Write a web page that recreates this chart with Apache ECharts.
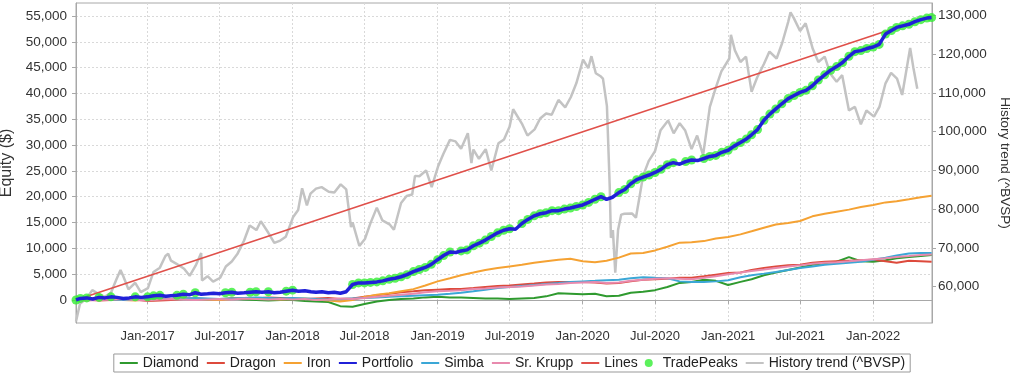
<!DOCTYPE html>
<html><head><meta charset="utf-8">
<script src="https://cdn.jsdelivr.net/npm/echarts@6/dist/echarts.min.js"></script>
<style>html,body{margin:0;padding:0;background:#fff}#c{width:1024px;height:374px}</style>
</head><body><div id="c"></div><script>
// ---- categories (months of the equity curves) ----
const months = [
 '2016-07','2016-08','2016-09','2016-10','2016-11','2016-12',
 '2017-01','2017-02','2017-03','2017-04','2017-05','2017-06','2017-07','2017-08','2017-09','2017-10','2017-11','2017-12',
 '2018-01','2018-02','2018-03','2018-04','2018-05','2018-06','2018-07','2018-08','2018-09','2018-10','2018-11','2018-12',
 '2019-01','2019-02','2019-03','2019-04','2019-05','2019-06','2019-07','2019-08','2019-09','2019-10','2019-11','2019-12',
 '2020-01','2020-02','2020-03','2020-04','2020-05','2020-06','2020-07','2020-08','2020-09','2020-10','2020-11','2020-12',
 '2021-01','2021-02','2021-03','2021-04','2021-05','2021-06','2021-07','2021-08','2021-09','2021-10','2021-11','2021-12',
 '2022-01','2022-02','2022-03','2022-04','2022-05'];
const startDate = '2016-07-05';
const endDate = '2022-05-28';
const monthDates = months.map((m, i) => i === 0 ? startDate : m + '-01').concat([endDate]);
const halfDates = months.flatMap((m, i) => [i === 0 ? startDate : m + '-01', m + '-16']).concat([endDate]);

// ---- equity series (left axis, $) monthly ----
const diamond = [
 0,200,300,200,100,300,
 400,300,200,300,200,100,200,300,100,0,-100,0,
 0,-200,-300,-400,-1200,-1300,-800,-300,0,200,300,500,
 600,500,500,400,300,300,200,300,400,700,1300,1200,
 1100,1200,700,800,1400,1600,1900,2500,3300,3500,3900,3700,
 2900,3500,4000,4800,5300,5800,6300,6800,7100,7400,8300,7500,
 7400,7700,8100,8300,8500,
 8700];
const dragon = [
 0,100,-100,0,200,100,
 -200,-100,0,200,300,200,100,300,400,300,500,400,
 300,200,300,400,200,300,600,900,1200,1500,1700,1900,
 2000,2100,2100,2300,2500,2700,2800,3000,3200,3400,3500,3500,
 3500,3400,3200,3300,3600,3900,4000,4100,4300,4300,4600,4900,
 5200,5300,5800,6200,6500,6700,6800,7200,7400,7500,7600,7700,
 7800,7500,7200,7600,7500,
 7400];
const iron = [
 0,100,300,200,0,-100,
 100,300,200,400,200,100,0,200,400,300,200,100,
 200,300,100,-100,-300,0,600,1000,1300,1700,2100,2800,
 3600,4200,4800,5300,5800,6200,6500,6800,7200,7500,7800,8000,
 7500,7300,7600,8200,9000,9100,9600,10300,11100,11200,11400,11900,
 12200,12700,13300,14000,14600,14900,15300,16200,16700,17100,17500,18000,
 18400,18900,19100,19500,19900,
 20200];
const simba = [
 0,100,200,100,0,100,
 200,300,200,300,400,300,200,300,400,500,400,300,
 400,300,200,100,200,300,400,500,600,700,800,900,
 1000,1200,1400,1700,2000,2300,2500,2700,2900,3100,3300,3500,
 3600,3700,3800,3900,4200,4400,4300,4200,3600,3500,3500,3600,
 3800,4400,4800,5100,5400,5800,6200,6500,6800,7000,7200,7400,
 7800,8200,8600,9000,9100,
 9100];
const srKrupp = [
 0,-100,0,100,200,0,
 -100,100,200,100,0,100,200,100,300,200,100,200,
 100,200,0,100,300,200,400,600,800,1000,1200,1500,
 1700,1800,1900,2100,2200,2400,2500,2600,2800,3000,3100,3300,
 3400,3500,3300,3400,3700,3900,4100,4200,4100,4000,4300,4600,
 5000,5300,5600,5900,6200,6500,6700,7000,7200,7300,7500,7700,
 7900,8100,8300,8500,8700,
 8800];
// Portfolio, twice a month (1st and 16th)
const portfolio = [
 0,300, 400,200, 500,400, 600,500, 300,400, 600,500,
 600,800, 900,700, 800,900, 1100,1000, 1400,1100, 1200,1300, 1200,1400, 1500,1300, 1400,1500, 1600,1500, 1600,1400, 1500,1700,
 1900,1700, 1800,1600, 1500,1600, 1400,1500, 1300,1600, 3000,3300, 3300,3400, 3500,3700, 4000,4200, 4500,4900, 5500,5900, 6300,6900,
 7800,8600, 9300,9200, 9500,9700, 10500,11000, 11600,12300, 13000,13500, 13800,13700, 14800,15600, 16300,16700, 16900,17300, 17300,17600, 17800,18100,
 18400,18900, 19500,20000, 19500,19900, 20800,21400, 22500,23300, 23800,24200, 24700,25300, 26200,26600, 26300,26800, 27100,27000, 27400,27800, 28000,28600,
 29000,29800, 30500,31200, 32000,33000, 34800,36000, 37000,38000, 39000,39600, 40200,40600, 41500,42600, 43600,44500, 45200,46000, 47200,48100, 48300,48700,
 49000,49500, 51500,52200, 52800,53100, 53400,53900, 54300,54600,
 54700];
// Straight "Lines" series
const linesDates = [startDate, endDate];
const linesValues = [0, 55000];

// ---- History trend (^BVSP), right axis ----
const bvspDates = [
 '2016-07-05','2016-07-15','2016-08-01','2016-08-15','2016-09-01','2016-09-15','2016-10-01','2016-10-14','2016-10-25','2016-11-01','2016-11-14','2016-12-01','2016-12-15',
 '2017-01-02','2017-01-16','2017-02-01','2017-02-15','2017-02-22','2017-03-01','2017-03-15','2017-04-03','2017-04-17','2017-05-02','2017-05-16','2017-05-18','2017-06-01','2017-06-15','2017-07-03','2017-07-17','2017-08-01','2017-08-15','2017-09-01','2017-09-15','2017-10-02','2017-10-13','2017-11-01','2017-11-16','2017-12-01','2017-12-15',
 '2018-01-02','2018-01-15','2018-01-25','2018-02-06','2018-02-15','2018-03-01','2018-03-15','2018-04-02','2018-04-16','2018-05-02','2018-05-16','2018-05-28','2018-06-01','2018-06-18','2018-07-02','2018-07-16','2018-08-01','2018-08-15','2018-09-03','2018-09-13','2018-10-01','2018-10-15','2018-10-29','2018-11-05','2018-11-16','2018-12-03','2018-12-17',
 '2019-01-02','2019-01-15','2019-02-01','2019-02-15','2019-03-01','2019-03-18','2019-03-27','2019-04-01','2019-04-15','2019-05-02','2019-05-16','2019-06-03','2019-06-17','2019-07-01','2019-07-10','2019-08-01','2019-08-15','2019-09-02','2019-09-16','2019-10-01','2019-10-15','2019-11-01','2019-11-18','2019-12-02','2019-12-16',
 '2020-01-02','2020-01-15','2020-01-23','2020-02-03','2020-02-14','2020-02-21','2020-03-02','2020-03-09','2020-03-12','2020-03-17','2020-03-23','2020-03-30','2020-04-07','2020-04-15','2020-05-04','2020-05-14','2020-06-01','2020-06-15','2020-07-01','2020-07-15','2020-08-03','2020-08-17','2020-09-01','2020-09-15','2020-10-01','2020-10-15','2020-10-30','2020-11-16','2020-12-01','2020-12-15',
 '2021-01-04','2021-01-08','2021-01-18','2021-02-01','2021-02-15','2021-03-01','2021-03-15','2021-04-01','2021-04-15','2021-05-03','2021-05-17','2021-06-01','2021-06-07','2021-06-15','2021-07-01','2021-07-15','2021-08-02','2021-08-16','2021-09-01','2021-09-15','2021-10-01','2021-10-15','2021-11-01','2021-11-16','2021-12-01','2021-12-15',
 '2022-01-03','2022-01-17','2022-02-01','2022-02-15','2022-03-02','2022-03-15','2022-04-04','2022-04-12','2022-04-22'];
const bvspValues = [
 51000,55600,57000,59100,58000,57400,58400,61700,64300,62700,59300,61000,58600,
 59600,63800,64900,67900,68500,66700,65900,64600,62800,65400,68700,61600,62700,61300,62300,65200,66500,68400,71900,75800,74600,76900,73900,71300,71900,72900,
 77900,79800,85400,81000,84000,85300,85700,84500,84300,86400,85100,75400,76600,70500,72300,76400,80400,77100,76000,74700,81600,83400,83800,88600,88500,90000,85700,
 91000,94200,97900,97500,95600,99600,91900,95400,93000,95500,90000,97000,98000,101300,105800,102100,99000,100600,103400,104700,104400,108200,106300,108900,112500,
 118600,116400,119500,115100,114400,113700,106600,86000,72600,74600,63600,74600,78600,78800,78900,77800,88600,92400,95000,100400,102900,99600,102200,100300,95500,99000,93950,106400,111400,115600,
 118900,125000,121000,118000,119400,110300,114000,117500,120700,118900,122900,128300,130800,129400,126000,128000,121400,118000,119400,115000,112900,114600,105500,106400,101900,105500,
 103900,106500,112500,115200,113700,109500,121600,116600,111100];

// ---- tick labels ----
const leftTicks = [0,5000,10000,15000,20000,25000,30000,35000,40000,45000,50000,55000];
const rightTicks = [60000,70000,80000,90000,100000,110000,120000,130000];
const xTickDates = ['2017-01-01','2017-07-01','2018-01-01','2018-07-01','2019-01-01','2019-07-01','2020-01-01','2020-07-01','2021-01-01','2021-07-01','2022-01-01'];
const MON = ['Jan','Feb','Mar','Apr','May','Jun','Jul','Aug','Sep','Oct','Nov','Dec'];

function ts(s){ const p = s.split('-').map(Number); return Date.UTC(p[0], p[1]-1, p[2]); }
const zip = (d, v) => d.map((x, i) => [ts(x), v[i]]);

const portfolioData = zip(halfDates, portfolio);
let runMax = -Infinity;
const peaks = [];
portfolioData.forEach(p => { if (p[1] >= runMax) { runMax = p[1]; peaks.push(p); } });

const fmt = v => Math.round(v).toLocaleString('en-US');
const font = 'Liberation Sans, Arial, sans-serif';
const gridLine = {show:true, lineStyle:{color:'#d9d9d9', type:[2,2], width:1}};
const noSym = {color:'rgba(0,0,0,0)', borderColor:'rgba(0,0,0,0)', borderWidth:0};

const chart = echarts.init(document.getElementById('c'), null, {renderer:'canvas'});
chart.setOption({
  animation:false,
  backgroundColor:'#fff',
  grid:{left:76, right:92, top:3, bottom:51, outerBoundsMode:'none', containLabel:false,
        show:true, borderColor:'#a8a8a8', borderWidth:1, backgroundColor:'#fff'},
  legend:{
    bottom:2, left:'center',
    data:[
      {name:'Diamond', itemStyle:noSym},{name:'Dragon', itemStyle:noSym},{name:'Iron', itemStyle:noSym},
      {name:'Portfolio', itemStyle:noSym},{name:'Simba', itemStyle:noSym},{name:'Sr. Krupp', itemStyle:noSym},
      {name:'Lines', itemStyle:noSym},{name:'TradePeaks', icon:'circle'},{name:'History trend (^BVSP)', itemStyle:noSym}],
    itemWidth:18, itemHeight:8, itemGap:7,
    textStyle:{fontSize:14, color:'#222', fontFamily:font},
    borderColor:'#999', borderWidth:1, padding:[2,5], borderRadius:0
  },
  xAxis:{
    type:'value', min:ts(startDate), max:ts('2022-05-29'),
    axisLine:{show:true, lineStyle:{color:'#a8a8a8'}},
    axisTick:{show:true, length:4, lineStyle:{color:'#a8a8a8'}, customValues:xTickDates.map(ts)},
    axisLabel:{customValues:xTickDates.map(ts), fontSize:13, color:'#333', fontFamily:font, margin:7,
      formatter:v => { const d = new Date(v); return MON[d.getUTCMonth()] + '-' + d.getUTCFullYear(); }},
    splitLine:gridLine
  },
  yAxis:[{
    type:'value', min:-4463, max:57522, position:'left',
    name:'Equity ($)', nameLocation:'middle', nameGap:54,
    nameTextStyle:{fontSize:16, color:'#333', fontFamily:font},
    axisLine:{show:true, lineStyle:{color:'#a8a8a8'}},
    axisTick:{show:true, length:4, lineStyle:{color:'#a8a8a8'}, customValues:leftTicks},
    axisLabel:{customValues:leftTicks, fontSize:13.5, color:'#333', fontFamily:font, margin:9, formatter:fmt},
    splitLine:gridLine
  },{
    type:'value', min:50613, max:133233, position:'right',
    name:'History trend (^BVSP)', nameLocation:'middle', nameGap:64, nameRotate:-90,
    nameTextStyle:{fontSize:13.5, color:'#333', fontFamily:font},
    axisLine:{show:true, lineStyle:{color:'#a8a8a8'}},
    axisTick:{show:true, length:4, lineStyle:{color:'#a8a8a8'}, customValues:rightTicks},
    axisLabel:{customValues:rightTicks, fontSize:13.5, color:'#333', fontFamily:font, margin:6, formatter:fmt},
    splitLine:{show:false}
  }],
  series:[
    {name:'History trend (^BVSP)', type:'line', yAxisIndex:1, symbol:'none', data:zip(bvspDates, bvspValues),
      lineStyle:{color:'#c3c3c3', width:2.5}, itemStyle:{color:'#c3c3c3'}, z:1},
    {name:'Diamond', type:'line', symbol:'none', data:zip(monthDates, diamond), lineStyle:{color:'#2f9a2f', width:2}, itemStyle:{color:'#2f9a2f'}, z:2},
    {name:'Dragon', type:'line', symbol:'none', data:zip(monthDates, dragon), lineStyle:{color:'#dd4a3c', width:2}, itemStyle:{color:'#dd4a3c'}, z:2},
    {name:'Iron', type:'line', symbol:'none', data:zip(monthDates, iron), lineStyle:{color:'#f5a233', width:2}, itemStyle:{color:'#f5a233'}, z:2},
    {name:'Simba', type:'line', symbol:'none', data:zip(monthDates, simba), lineStyle:{color:'#3ba7d6', width:2}, itemStyle:{color:'#3ba7d6'}, z:2},
    {name:'Sr. Krupp', type:'line', symbol:'none', data:zip(monthDates, srKrupp), lineStyle:{color:'#e88aae', width:2}, itemStyle:{color:'#e88aae'}, z:2},
    {name:'Lines', type:'line', symbol:'none', data:zip(linesDates, linesValues), lineStyle:{color:'#e0504a', width:1.6}, itemStyle:{color:'#e0504a'}, z:2},
    {name:'TradePeaks', type:'scatter', symbol:'circle', symbolSize:9, data:peaks, itemStyle:{color:'#33ee33'}, z:3},
    {name:'Portfolio', type:'line', symbol:'none', data:portfolioData, lineStyle:{color:'#2020d8', width:3.5}, itemStyle:{color:'#2020d8'}, z:4}
  ]
});
</script></body></html>
